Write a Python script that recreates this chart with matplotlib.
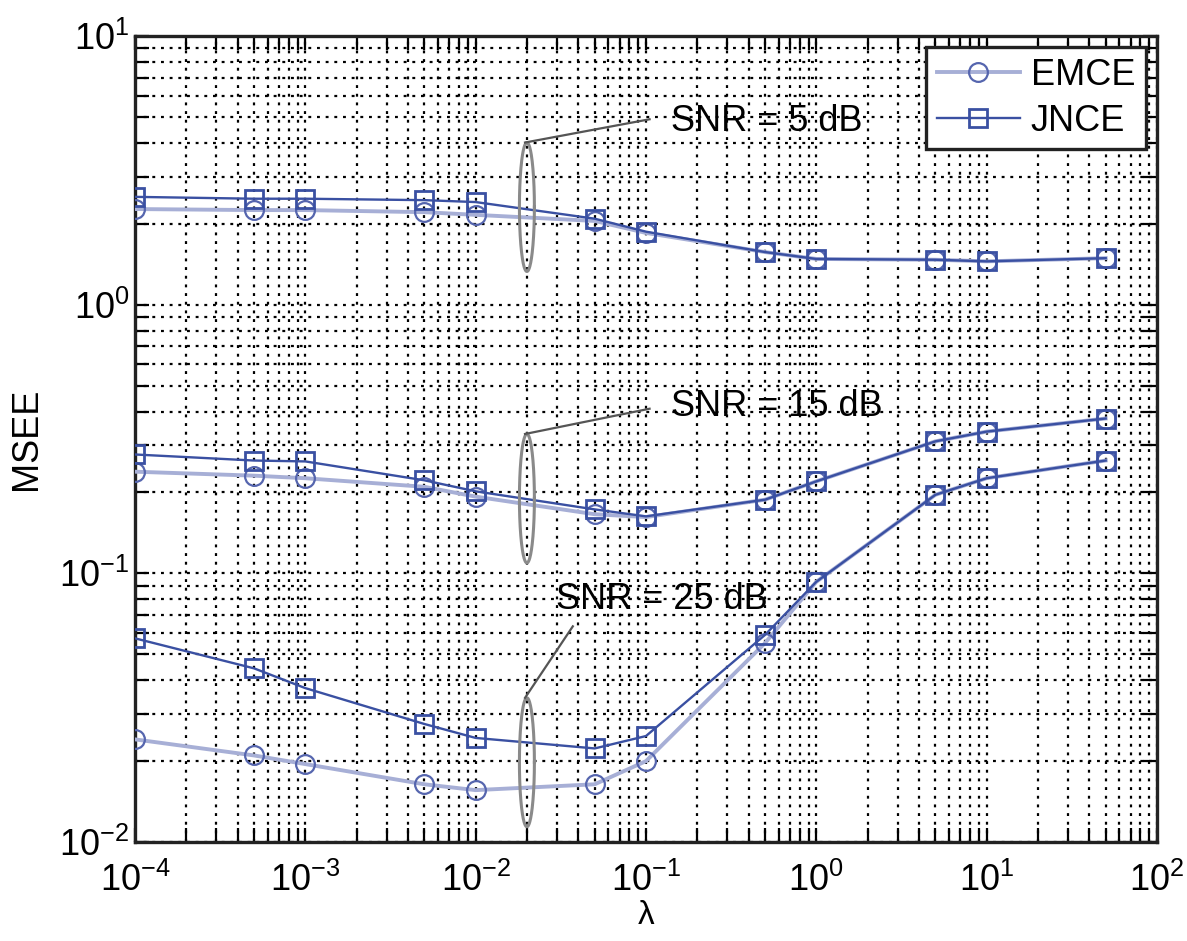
import numpy as np
import matplotlib
matplotlib.use("Agg")
import matplotlib.pyplot as plt
from matplotlib.ticker import LogLocator

plt.rcParams['font.family'] = ['Liberation Sans', 'DejaVu Sans']
plt.rcParams['mathtext.fontset'] = 'custom'
plt.rcParams['mathtext.rm'] = 'Liberation Sans'
plt.rcParams['mathtext.it'] = 'Liberation Sans'
plt.rcParams['mathtext.default'] = 'regular'

# ---- DATA ----
lam = [1e-4, 5e-4, 1e-3, 5e-3, 1e-2, 5e-2, 1e-1, 5e-1, 1, 5, 10, 50]

emce_5 = [2.27, 2.25, 2.25, 2.21, 2.16, 2.05, 1.85, 1.57, 1.48, 1.47, 1.45, 1.49]
jnce_5 = [2.52, 2.48, 2.48, 2.45, 2.41, 2.09, 1.87, 1.57, 1.48, 1.47, 1.45, 1.49]

emce_15 = [0.239, 0.231, 0.226, 0.210, 0.193, 0.166, 0.162, 0.188, 0.220, 0.310, 0.337, 0.377]
jnce_15 = [0.277, 0.263, 0.261, 0.222, 0.202, 0.173, 0.163, 0.188, 0.220, 0.310, 0.337, 0.377]

emce_25 = [0.0241, 0.0210, 0.0195, 0.0164, 0.0156, 0.0164, 0.0200, 0.055, 0.093, 0.196, 0.226, 0.263]
jnce_25 = [0.0573, 0.0443, 0.0374, 0.0275, 0.0244, 0.0223, 0.0248, 0.059, 0.093, 0.196, 0.226, 0.263]

# annotation: label, ellipse centre y, text pos, line end
snr_labels = ["SNR = 5 dB", "SNR = 15 dB", "SNR = 25 dB"]
ell_y = [2.31, 0.190, 0.0198]
text_xy = [(0.14, 4.79), (0.14, 0.418), (0.0295, 0.080)]
line_end = [(0.105, 4.9), (0.105, 0.41), (0.0372, 0.0635)]

# ---- PLOT ----
emce_line = "#a7afd6"
emce_mark = "#5565ae"
jnce_col = "#3a50a2"

fig = plt.figure(figsize=(11.87, 9.41), dpi=100)
ax = fig.add_axes([0.1137, 0.1052, 0.861, 0.8565])

for i, (e, j) in enumerate([(emce_5, jnce_5), (emce_15, jnce_15), (emce_25, jnce_25)]):
  ax.plot(lam, e, color=emce_line, lw=2.8, marker="o", ms=13.5, mfc="none",
          mec=emce_mark, mew=1.6, label="EMCE" if i == 0 else None, zorder=3)
  ax.plot(lam, j, color=jnce_col, lw=1.7, marker="s", ms=13.5, mfc="none",
          mec=jnce_col, mew=2.0, label="JNCE" if i == 0 else None, zorder=4)

ax.set_xscale("log")
ax.set_yscale("log")
ax.set_xlim(1e-4, 1e2)
ax.set_ylim(1e-2, 1e1)

# ellipses and pointer lines
t = np.linspace(0, 2 * np.pi, 200)
for lab, yc, (tx, ty), (lx, ly) in zip(snr_labels, ell_y, text_xy, line_end):
  ex = 10 ** (np.log10(0.02) + 0.044 * np.cos(t))
  ey = 10 ** (np.log10(yc) + 0.24 * np.sin(t))
  ax.plot(ex, ey, color="#8a8a8a", lw=2.2, zorder=5)
  ytop = 10 ** (np.log10(yc) + 0.24)
  ax.plot([0.0195, lx], [ytop, ly], color="#555555", lw=1.6, zorder=5)
  ax.text(tx, ty, lab, fontsize=26, va="center", ha="left", zorder=6)

ax.xaxis.set_major_locator(LogLocator(base=10, numticks=10))
ax.xaxis.set_minor_locator(LogLocator(base=10, subs=np.arange(2, 10), numticks=20))
ax.yaxis.set_major_locator(LogLocator(base=10, numticks=10))
ax.yaxis.set_minor_locator(LogLocator(base=10, subs=np.arange(2, 10), numticks=20))

ax.grid(True, which="both", color="black", linestyle=(0, (1.3, 2.6)), lw=1.6)
ax.tick_params(which="both", direction="in", top=True, right=True,
               length=10, width=1.6, labelsize=26)
ax.tick_params(axis="x", which="major", pad=15)
ax.tick_params(axis="y", which="major", pad=4)
for s in ax.spines.values():
  s.set_linewidth(2.4)
  s.set_color("#222222")

ax.set_xlabel("λ", fontsize=24)
ax.xaxis.set_label_coords(0.5, -0.072)
ax.set_ylabel("MSEE", fontsize=26)
ax.yaxis.set_label_coords(-0.089, 0.5)

leg = ax.legend(loc="upper right", fontsize=26, frameon=True, fancybox=False,
                edgecolor="#222222", framealpha=1, borderpad=0.3,
                handlelength=2.3, handletextpad=0.3, labelspacing=0.3,
                borderaxespad=0.3)
leg.get_frame().set_linewidth(2.4)

fig.savefig("out.png", dpi=100)
